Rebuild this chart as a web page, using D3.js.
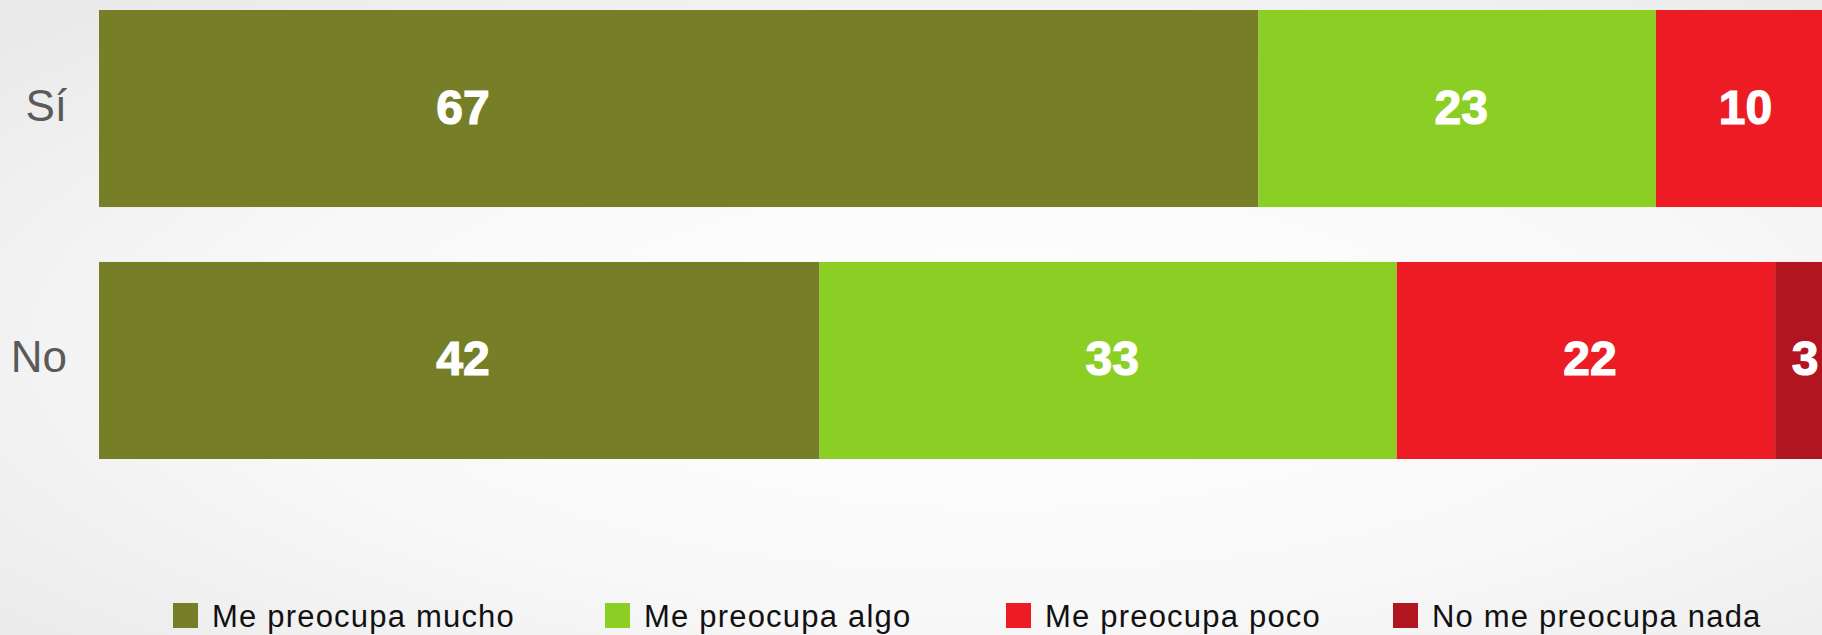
<!DOCTYPE html>
<html>
<head>
<meta charset="utf-8">
<script src="https://cdn.jsdelivr.net/npm/d3@7"></script>
<style>
  html, body { margin: 0; padding: 0; overflow: hidden; }
  svg { display: block; }
</style>
</head>
<body>
<svg id="chart" width="1822" height="635"></svg>
<script>
// categories (rows) and series (stacked segments, percent)
var categories = ["Sí", "No"];
var seriesNames = ["Me preocupa mucho", "Me preocupa algo", "Me preocupa poco", "No me preocupa nada"];
var mucho = [67.1, 41.7];
var algo = [23.0, 33.4];
var poco = [9.9, 21.9];
var nada = [0.0, 3.0];
var colors = ["#767f27", "#8ccf24", "#ed1c24", "#b01520"];

// legend layout (x of each swatch)
var legendX = [173, 605, 1006, 1393];

var svg = d3.select("#chart"),
    width = +svg.attr("width"),
    height = +svg.attr("height");

// soft grey backdrop
var defs = svg.append("defs");
var grad = defs.append("radialGradient")
    .attr("id", "bg")
    .attr("cx", "55%").attr("cy", "55%").attr("r", "75%");
grad.append("stop").attr("offset", "0%").attr("stop-color", "#ffffff");
grad.append("stop").attr("offset", "55%").attr("stop-color", "#f8f8f8");
grad.append("stop").attr("offset", "100%").attr("stop-color", "#e9e9e9");
svg.append("rect").attr("width", width).attr("height", height).attr("fill", "url(#bg)");

var rows = categories.map(function (c, i) {
    return { cat: c, mucho: mucho[i], algo: algo[i], poco: poco[i], nada: nada[i] };
});
var keys = ["mucho", "algo", "poco", "nada"];
var stacked = d3.stack().keys(keys)(rows);

var x = d3.scaleLinear().domain([0, 100]).range([99, 1827]);
var y = d3.scaleBand().domain(categories).range([10, 459]).paddingInner(0.218).paddingOuter(0);

var layer = svg.append("g").selectAll("g")
    .data(stacked)
    .join("g")
    .attr("fill", function (d, i) { return colors[i]; });

layer.selectAll("rect")
    .data(function (d) { return d; })
    .join("rect")
    .attr("x", function (d) { return x(d[0]); })
    .attr("y", function (d) { return y(d.data.cat); })
    .attr("width", function (d) { return x(d[1]) - x(d[0]); })
    .attr("height", y.bandwidth());

// value labels
var fmt = d3.format(".0f");
layer.selectAll("text")
    .data(function (d) { return d.filter(function (s) { return s[1] - s[0] > 0; }); })
    .join("text")
    .attr("x", function (d) {
        var half = (x(d[1]) - x(d[0])) / 2;
        return x(d[0]) + Math.min(half, 360) + 4;
    })
    .attr("y", function (d) { return y(d.data.cat) + y.bandwidth() / 2 + 15; })
    .attr("text-anchor", "middle")
    .attr("fill", "#ffffff")
    .attr("stroke", "#ffffff")
    .attr("stroke-width", 1.2)
    .style("font-family", "'Liberation Sans', Arial, Helvetica, sans-serif")
    .style("font-weight", "bold")
    .style("font-size", "48px")
    .text(function (d) { return fmt(d[1] - d[0]); });

// category labels
svg.append("g").selectAll("text")
    .data(categories)
    .join("text")
    .attr("x", 67)
    .attr("y", function (d) { return y(d) + y.bandwidth() / 2 + 12; })
    .attr("text-anchor", "end")
    .attr("fill", "#5a5a5a")
    .style("font-family", "'Liberation Sans', Arial, Helvetica, sans-serif")
    .style("font-size", "44px")
    .text(function (d) { return d; });

// legend
var legend = svg.append("g").selectAll("g")
    .data(seriesNames)
    .join("g")
    .attr("transform", function (d, i) { return "translate(" + legendX[i] + ",603)"; });

legend.append("rect")
    .attr("width", 25).attr("height", 25)
    .attr("fill", function (d, i) { return colors[i]; });

legend.append("text")
    .attr("x", 39)
    .attr("y", 24)
    .attr("fill", "#111111")
    .style("font-family", "'Liberation Sans', Arial, Helvetica, sans-serif")
    .style("font-size", "31px")
    .style("letter-spacing", "1.2px")
    .text(function (d) { return d; });
</script>
</body>
</html>
